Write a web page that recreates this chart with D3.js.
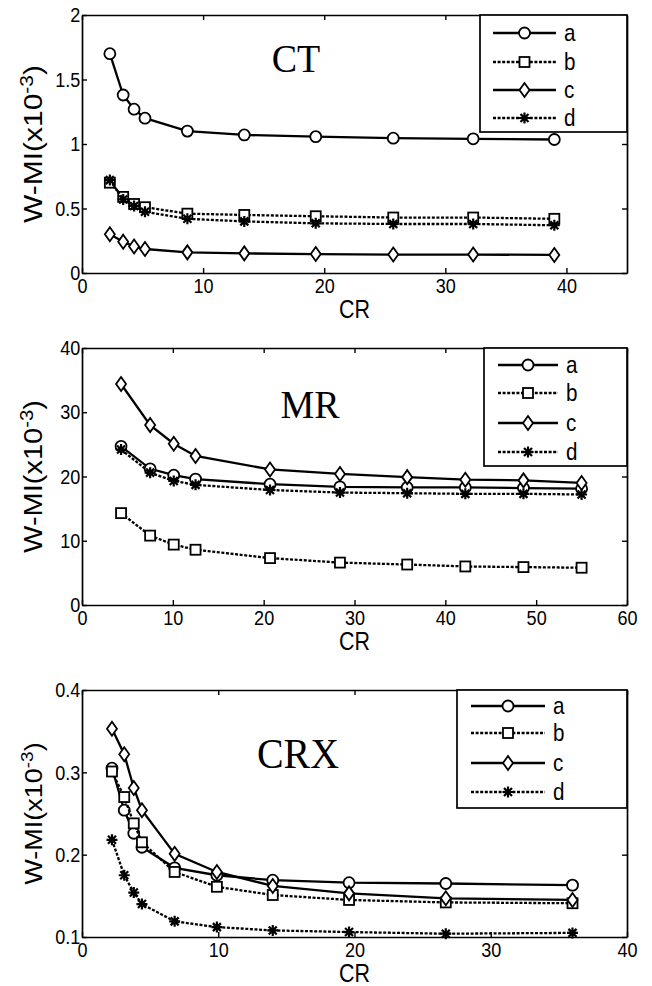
<!DOCTYPE html>
<html>
<head>
<meta charset="utf-8">
<script src="https://cdn.jsdelivr.net/npm/d3@7"></script>
<style>
  body { margin: 0; background: white; }
  svg { display: block; }
</style>
</head>
<body>
<svg width="652" height="986"></svg>
<script>
// series names shared by all three panels
const seriesNames = ['a', 'b', 'c', 'd'];

// CT panel
const ctCR = [2.3, 3.4, 4.3, 5.2, 8.7, 13.4, 19.3, 25.7, 32.3, 39.0];
const ctA = [1.70, 1.38, 1.27, 1.20, 1.10, 1.07, 1.057, 1.045, 1.04, 1.035];
const ctB = [0.70, 0.59, 0.535, 0.51, 0.46, 0.45, 0.44, 0.43, 0.43, 0.42];
const ctC = [0.30, 0.243, 0.205, 0.186, 0.16, 0.152, 0.147, 0.143, 0.143, 0.14];
const ctD = [0.72, 0.57, 0.52, 0.475, 0.42, 0.40, 0.385, 0.38, 0.38, 0.37];
const ctXTicks = [0, 10, 20, 30, 40];
const ctYTicks = [0, 0.5, 1, 1.5, 2];

// MR panel
const mrCR = [4.3, 7.5, 10.1, 12.5, 20.7, 28.4, 35.8, 42.2, 48.6, 55.0];
const mrA = [24.7, 21.2, 20.2, 19.6, 18.8, 18.4, 18.3, 18.3, 18.2, 18.1];
const mrB = [14.3, 10.8, 9.4, 8.6, 7.3, 6.6, 6.3, 6.0, 5.9, 5.8];
const mrC = [34.4, 28.0, 25.1, 23.2, 21.1, 20.4, 19.9, 19.5, 19.4, 19.0];
const mrD = [24.2, 20.6, 19.3, 18.7, 17.9, 17.5, 17.4, 17.3, 17.3, 17.2];
const mrXTicks = [0, 10, 20, 30, 40, 50, 60];
const mrYTicks = [0, 10, 20, 30, 40];

// CRX panel
const crxCR = [2.2, 3.1, 3.8, 4.4, 6.8, 9.9, 14.0, 19.6, 26.7, 36.0];
const crxA = [0.305, 0.254, 0.226, 0.209, 0.184, 0.175, 0.169, 0.166, 0.165, 0.163];
const crxB = [0.301, 0.270, 0.238, 0.215, 0.179, 0.161, 0.151, 0.145, 0.142, 0.141];
const crxC = [0.353, 0.322, 0.281, 0.254, 0.201, 0.179, 0.162, 0.153, 0.147, 0.145];
const crxD = [0.218, 0.175, 0.154, 0.140, 0.119, 0.112, 0.108, 0.106, 0.104, 0.105];
const crxXTicks = [0, 10, 20, 30, 40];
const crxYTicks = [0.1, 0.2, 0.3, 0.4];

const svg = d3.select('svg');

const left = 82, right = 627;
const sans = 'Liberation Sans, Arial, sans-serif';
const serif = 'Liberation Serif, Times New Roman, serif';
// the scanned figure is a little squeezed sideways, so text is narrowed too
const squeeze = 0.86;

const dashed = ['none', '3,1.6', 'none', '3,1.6'];
const markerKind = ['circle', 'square', 'diamond', 'star'];

const drawMarker = (g, kind, x, y) => {
	if (kind === 'circle') {
		g.append('circle').attr('cx', x).attr('cy', y).attr('r', 5.5)
			.attr('fill', 'white').attr('stroke', 'black').attr('stroke-width', 1.8);
	} else if (kind === 'square') {
		g.append('rect').attr('x', x - 5).attr('y', y - 5)
			.attr('width', 10).attr('height', 10)
			.attr('fill', 'white').attr('stroke', 'black').attr('stroke-width', 1.8);
	} else if (kind === 'diamond') {
		g.append('path')
			.attr('d', `M${x},${y - 7}L${x + 5},${y}L${x},${y + 7}L${x - 5},${y}Z`)
			.attr('fill', 'white').attr('stroke', 'black').attr('stroke-width', 1.8);
	} else {
		const r = 5.5, q = 4;
		g.append('path')
			.attr('d', `M${x},${y - r}V${y + r}M${x - r},${y}H${x + r}` +
				`M${x - q},${y - q}L${x + q},${y + q}M${x - q},${y + q}L${x + q},${y - q}`)
			.attr('fill', 'none').attr('stroke', 'black').attr('stroke-width', 2.2);
	}
};

const render = p => {
	const xScale = d3.scaleLinear().domain(p.xDomain).range([left, right]);
	const yScale = d3.scaleLinear().domain(p.yDomain).range([p.bottom, p.top]);
	const fmt = d3.format('~g');

	const g = svg.append('g');

	// axes, MATLAB style: ticks inside on all four sides
	g.append('g')
		.attr('transform', `translate(0,${p.bottom})`)
		.call(d3.axisBottom(xScale).tickValues(p.xTicks).tickFormat(fmt)
			.tickSizeInner(-5).tickSizeOuter(0).tickPadding(5));
	g.append('g')
		.attr('transform', `translate(0,${p.top})`)
		.call(d3.axisTop(xScale).tickValues(p.xTicks).tickFormat('')
			.tickSizeInner(-5).tickSizeOuter(0));
	g.append('g')
		.attr('transform', `translate(${left},0)`)
		.call(d3.axisLeft(yScale).tickValues(p.yTicks).tickFormat(fmt)
			.tickSizeInner(-5).tickSizeOuter(0).tickPadding(2));
	g.append('g')
		.attr('transform', `translate(${right},0)`)
		.call(d3.axisRight(yScale).tickValues(p.yTicks).tickFormat('')
			.tickSizeInner(-5).tickSizeOuter(0));

	g.selectAll('.tick line').attr('stroke', 'black').attr('stroke-width', 1.4);
	g.selectAll('.domain').attr('stroke', 'black').attr('stroke-width', 1.7);
	g.selectAll('.tick text')
		.attr('font-family', sans).attr('font-size', 21).attr('fill', 'black')
		.attr('transform', `scale(${squeeze},1)`);

	// series lines and markers
	p.series.forEach((vals, i) => {
		const pts = vals.map((v, j) => [xScale(p.cr[j]), yScale(v)]);
		g.append('path')
			.attr('d', d3.line()(pts))
			.attr('fill', 'none')
			.attr('stroke', 'black')
			.attr('stroke-width', 2.3)
			.attr('stroke-dasharray', dashed[i]);
		pts.forEach(pt => drawMarker(g, markerKind[i], pt[0], pt[1]));
	});

	// title inside the plot
	g.append('text')
		.attr('transform', `translate(${p.titleX},${p.titleY}) scale(0.95,1)`)
		.attr('text-anchor', 'middle')
		.attr('font-family', serif).attr('font-size', p.titleSize)
		.text(p.title);

	// axis labels
	g.append('text')
		.attr('transform', `translate(${(left + right) / 2},${p.bottom + 45}) scale(${squeeze},1)`)
		.attr('text-anchor', 'middle')
		.attr('font-family', sans).attr('font-size', 25)
		.text('CR');

	const yl = g.append('text')
		.attr('transform', `translate(42,${(p.top + p.bottom) / 2}) rotate(-90) scale(1,${squeeze})`)
		.attr('text-anchor', 'middle')
		.attr('font-family', sans).attr('font-size', p.ylabelSize);
	yl.append('tspan').text('W-MI(x10');
	yl.append('tspan').attr('dy', -11).attr('font-size', p.ylabelSize * 0.7).text('-3');
	yl.append('tspan').attr('dy', 11).text(')');

	// legend
	const lg = g.append('g');
	lg.append('rect')
		.attr('x', p.legend.x).attr('y', p.top)
		.attr('width', right - p.legend.x).attr('height', p.legend.h)
		.attr('fill', 'white').attr('stroke', 'black').attr('stroke-width', 1.7);
	seriesNames.forEach((name, i) => {
		const y = p.legend.rows[i];
		lg.append('line')
			.attr('x1', p.legend.x1).attr('x2', p.legend.x2)
			.attr('y1', y).attr('y2', y)
			.attr('stroke', 'black').attr('stroke-width', 2.3)
			.attr('stroke-dasharray', dashed[i]);
		drawMarker(lg, markerKind[i], (p.legend.x1 + p.legend.x2) / 2, y);
		lg.append('text')
			.attr('transform', `translate(${p.legend.x2 + 8},${y + 8}) scale(${squeeze},1)`)
			.attr('font-family', sans).attr('font-size', 24)
			.text(name);
	});
};

render({
	top: 15, bottom: 273,
	xDomain: [0, 45], yDomain: [0, 2],
	xTicks: ctXTicks, yTicks: ctYTicks,
	cr: ctCR, series: [ctA, ctB, ctC, ctD],
	title: 'CT', titleX: 296, titleY: 72, titleSize: 40, ylabelSize: 30,
	legend: { x: 480, h: 117, x1: 493, x2: 556, rows: [33, 62, 90, 118] }
});

render({
	top: 348, bottom: 605,
	xDomain: [0, 60], yDomain: [0, 40],
	xTicks: mrXTicks, yTicks: mrYTicks,
	cr: mrCR, series: [mrA, mrB, mrC, mrD],
	title: 'MR', titleX: 310, titleY: 418, titleSize: 40, ylabelSize: 29,
	legend: { x: 484, h: 118, x1: 498, x2: 558, rows: [365, 393, 423, 452] }
});

render({
	top: 690, bottom: 937,
	xDomain: [0, 40], yDomain: [0.1, 0.4],
	xTicks: crxXTicks, yTicks: crxYTicks,
	cr: crxCR, series: [crxA, crxB, crxC, crxD],
	title: 'CRX', titleX: 298, titleY: 768, titleSize: 42, ylabelSize: 27,
	legend: { x: 457, h: 118, x1: 471, x2: 545, rows: [706, 733, 763, 792] }
});
</script>
</body>
</html>
